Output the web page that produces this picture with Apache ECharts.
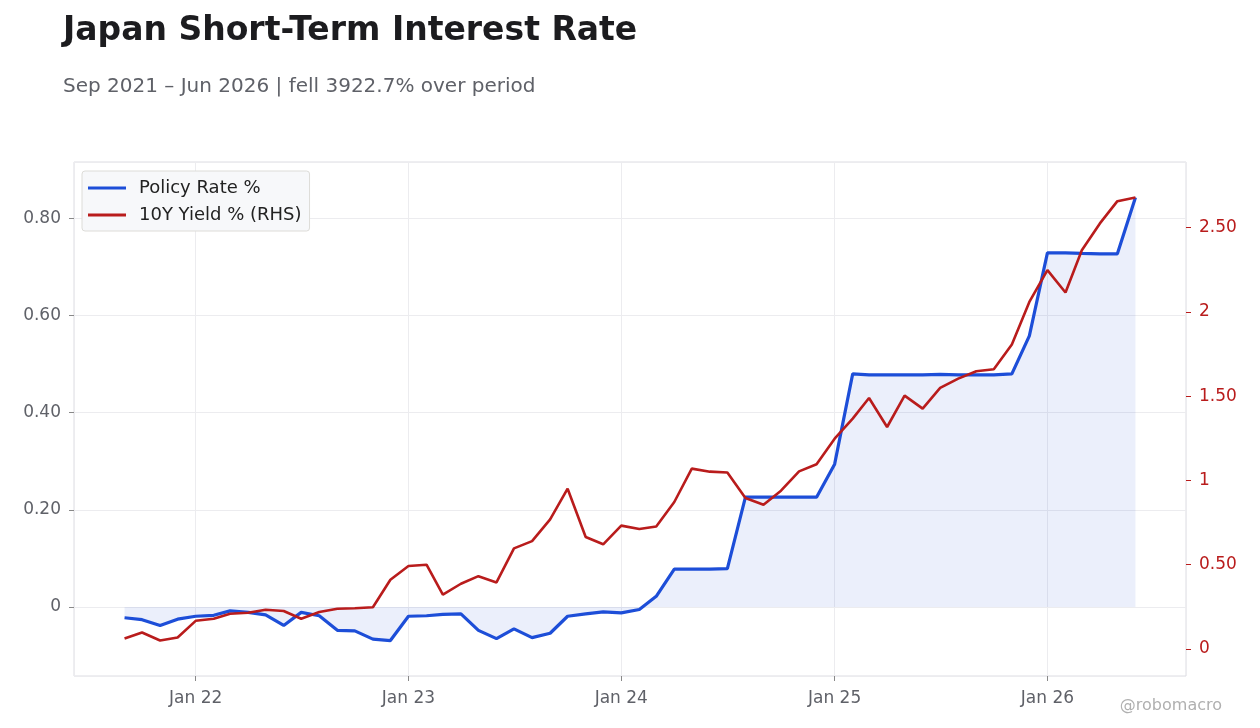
<!DOCTYPE html>
<html>
<head>
<meta charset="utf-8">
<script src="https://cdn.jsdelivr.net/npm/echarts@6/dist/echarts.min.js"></script>
<style>
  html, body { margin: 0; padding: 0; background: #fff; }
  #chart { width: 1260px; height: 728px; }
</style>
</head>
<body>
<div id="chart"></div>
<script>
// monthly observations, Sep 2021 - Jun 2026
const months = [
  '2021-09-01', '2021-10-01', '2021-11-01', '2021-12-01',
  '2022-01-01', '2022-02-01', '2022-03-01', '2022-04-01', '2022-05-01', '2022-06-01',
  '2022-07-01', '2022-08-01', '2022-09-01', '2022-10-01', '2022-11-01', '2022-12-01',
  '2023-01-01', '2023-02-01', '2023-03-01', '2023-04-01', '2023-05-01', '2023-06-01',
  '2023-07-01', '2023-08-01', '2023-09-01', '2023-10-01', '2023-11-01', '2023-12-01',
  '2024-01-01', '2024-02-01', '2024-03-01', '2024-04-01', '2024-05-01', '2024-06-01',
  '2024-07-01', '2024-08-01', '2024-09-01', '2024-10-01', '2024-11-01', '2024-12-01',
  '2025-01-01', '2025-02-01', '2025-03-01', '2025-04-01', '2025-05-01', '2025-06-01',
  '2025-07-01', '2025-08-01', '2025-09-01', '2025-10-01', '2025-11-01', '2025-12-01',
  '2026-01-01', '2026-02-01', '2026-03-01', '2026-04-01', '2026-05-01', '2026-06-01'
]

const policyRate = [
  -0.022, -0.026, -0.038, -0.025,
  -0.019, -0.017, -0.008, -0.011, -0.016, -0.038,
  -0.011, -0.018, -0.048, -0.049, -0.066, -0.069,
  -0.019, -0.018, -0.015, -0.014, -0.048, -0.065,
  -0.045, -0.063, -0.054, -0.019, -0.014, -0.010,
  -0.012, -0.005, 0.022, 0.078, 0.078, 0.078,
  0.079, 0.226, 0.226, 0.226, 0.226, 0.226,
  0.294, 0.480, 0.478, 0.478, 0.478, 0.478,
  0.479, 0.478, 0.478, 0.478, 0.480, 0.558,
  0.729, 0.729, 0.728, 0.727, 0.727, 0.843
]

const yield10y = [
  0.062, 0.098, 0.050, 0.068,
  0.167, 0.179, 0.209, 0.215, 0.233, 0.225,
  0.179, 0.219, 0.239, 0.242, 0.248, 0.411,
  0.492, 0.500, 0.322, 0.387, 0.432, 0.395,
  0.597, 0.640, 0.769, 0.951, 0.664, 0.621,
  0.732, 0.712, 0.727, 0.872, 1.070, 1.052,
  1.047, 0.896, 0.856, 0.939, 1.054, 1.096,
  1.248, 1.367, 1.489, 1.317, 1.503, 1.426,
  1.549, 1.604, 1.648, 1.660, 1.806, 2.059,
  2.248, 2.115, 2.366, 2.525, 2.657, 2.679
]

const chartTitle = 'Japan Short-Term Interest Rate'
const chartSubtitle = 'Sep 2021 – Jun 2026 | fell 3922.7% over period'

const BLUE = '#1d4ed8'
const RED = '#b91c1c'
const GREY = '#5f6168'

function pad(frac) {
	return {
		min: v => v.min - (v.max - v.min) * frac,
		max: v => v.max + (v.max - v.min) * frac
	}
}

function numLabel(v) {
	if (Math.abs(v) < 1e-9) return '0'
	if (Math.abs(v - Math.round(v)) < 1e-9) return String(Math.round(v))
	return v.toFixed(2)
}

const chart = echarts.init(document.getElementById('chart'))

chart.setOption({
	backgroundColor: '#fff',
	animation: false,
	textStyle: { fontFamily: 'DejaVu Sans' },
	title: {
		text: chartTitle,
		subtext: chartSubtitle,
		left: 58,
		top: 10,
		itemGap: 29,
		textStyle: { fontSize: 33, fontWeight: 'bold', color: '#1c1c1f' },
		subtextStyle: { fontSize: 20, color: GREY }
	},
	legend: {
		orient: 'vertical',
		left: 82,
		top: 171,
		padding: [8, 8, 7, 6],
		itemGap: 9,
		itemWidth: 38,
		itemHeight: 3,
		backgroundColor: '#f7f8fa',
		borderColor: '#dddcd8',
		borderWidth: 1,
		borderRadius: 3,
		icon: 'rect',
		textStyle: { fontSize: 18, color: '#222', padding: [0, 0, 0, 8] },
		data: ['Policy Rate %', '10Y Yield % (RHS)']
	},
	grid: {
		left: 74,
		right: 74,
		top: 162,
		bottom: 52,
		show: true,
		borderColor: '#dcdde3',
		borderWidth: 1
	},
	xAxis: {
		type: 'time',
		...pad(0.05),
		axisLine: { show: false, onZero: false },
		axisTick: { show: true, length: 5, lineStyle: { color: '#888' } },
		axisLabel: {
			fontSize: 17,
			color: GREY,
			margin: 14,
			showMinLabel: false,
			showMaxLabel: false,
			formatter: val => {
				const d = new Date(val)
				if (d.getMonth() !== 0) return ''
				return 'Jan ' + String(d.getFullYear()).slice(2)
			}
		},
		splitLine: { show: true, lineStyle: { color: '#ececef' } }
	},
	yAxis: [
		{
			type: 'value',
			...pad(0.08),
			axisLine: { show: false },
			axisTick: { show: true, length: 5, lineStyle: { color: '#888' } },
			axisLabel: {
				fontSize: 17,
				color: GREY,
				margin: 13,
				showMinLabel: false,
				showMaxLabel: false,
				formatter: numLabel
			},
			splitLine: { show: true, lineStyle: { color: '#ececef' } }
		},
		{
			type: 'value',
			...pad(0.08),
			position: 'right',
			axisLine: { show: false },
			axisTick: { show: true, length: 5, lineStyle: { color: RED } },
			axisLabel: {
				fontSize: 17,
				color: RED,
				margin: 13,
				showMinLabel: false,
				showMaxLabel: false,
				formatter: numLabel
			},
			splitLine: { show: false }
		}
	],
	series: [
		{
			name: 'Policy Rate %',
			type: 'line',
			yAxisIndex: 0,
			showSymbol: false,
			lineStyle: { color: BLUE, width: 3.2 },
			itemStyle: { color: BLUE },
			areaStyle: { color: BLUE, opacity: 0.09 },
			data: months.map((m, i) => [m, policyRate[i]])
		},
		{
			name: '10Y Yield % (RHS)',
			type: 'line',
			yAxisIndex: 1,
			showSymbol: false,
			lineStyle: { color: RED, width: 2.6 },
			itemStyle: { color: RED },
			data: months.map((m, i) => [m, yield10y[i]])
		}
	],
	graphic: [
		{
			type: 'text',
			right: 38,
			bottom: 14,
			style: { text: '@robomacro', fontSize: 16, fill: '#b0b0b0', fontFamily: 'DejaVu Sans' }
		}
	]
})
</script>
</body>
</html>
